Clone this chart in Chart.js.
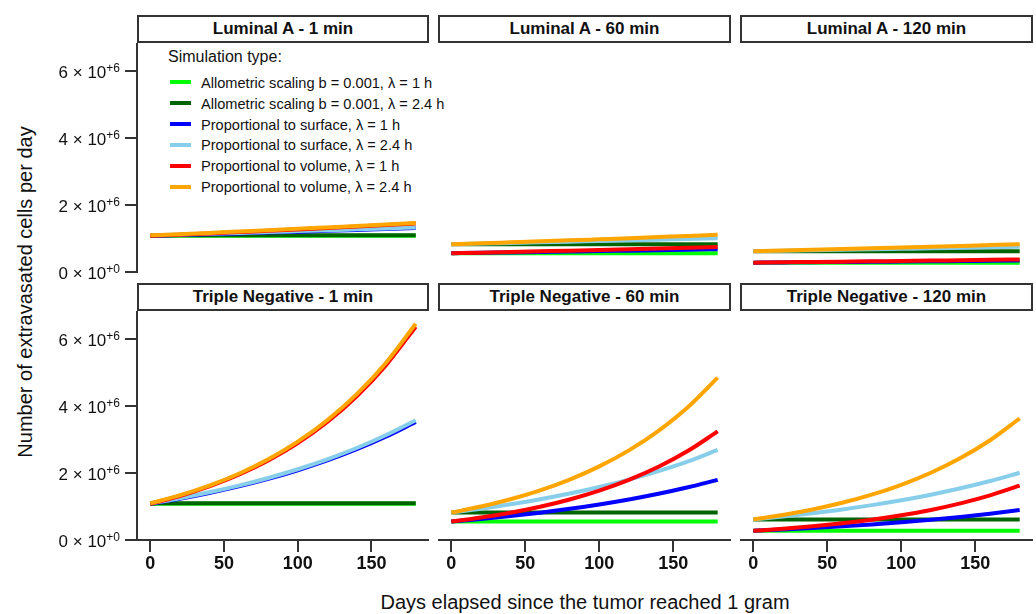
<!DOCTYPE html>
<html>
<head>
<meta charset="utf-8">
<script src="https://cdn.jsdelivr.net/npm/chart.js@4.4.1/dist/chart.umd.min.js"></script>
<style>
    html, body { margin: 0; padding: 0; background: #ffffff; }
    body { position: relative; width: 1036px; height: 614px; overflow: hidden; font-family: "Liberation Sans", Arial, Helvetica, sans-serif; color: #111111; }
    canvas { position: absolute; }
    .strip { position: absolute; box-sizing: border-box; height: 28px; border: 2px solid #333333; background: #ffffff; font-weight: bold; font-size: 17px; line-height: 24px; text-align: center; white-space: nowrap; }
    .legend_title { position: absolute; left: 168px; top: 48px; font-size: 16px; line-height: 18px; white-space: nowrap; }
    .legend_item { position: absolute; left: 201px; font-size: 14.6px; line-height: 18px; white-space: nowrap; }
    .legend_swatch { position: absolute; left: 170px; width: 21px; height: 4px; }
    .x_title { position: absolute; left: 137px; width: 896px; top: 591px; font-size: 20px; line-height: 22px; text-align: center; white-space: nowrap; }
    .y_title { position: absolute; left: -175px; top: 280px; width: 400px; height: 24px; font-size: 20px; line-height: 24px; text-align: center; white-space: nowrap; transform: rotate(-90deg); }
</style>
</head>
<body>
<div class="x_title">Days elapsed since the tumor reached 1 gram</div>
<div class="y_title">Number of extravasated cells per day</div>
<script>
"use strict";
// Data - Days Since The Tumor Reached 1 Gram
const days = [0, 20, 40, 60, 80, 100, 120, 140, 160, 180];
// Data - Simulation Types (same row order in every panel)
const series_names = [
    "Allometric scaling b = 0.001, \u03bb = 1 h",
    "Allometric scaling b = 0.001, \u03bb = 2.4 h",
    "Proportional to surface, \u03bb = 1 h",
    "Proportional to surface, \u03bb = 2.4 h",
    "Proportional to volume, \u03bb = 1 h",
    "Proportional to volume, \u03bb = 2.4 h",
];
const series_colors = ["#00ff00", "#006400", "#0000ff", "#87ceeb", "#ff0000", "#ffa500"];
// Data - Panel Titles
const panel_titles = [
    "Luminal A - 1 min", "Luminal A - 60 min", "Luminal A - 120 min",
    "Triple Negative - 1 min", "Triple Negative - 60 min", "Triple Negative - 120 min",
];
// Data - Extravasated Cells Per Day, In Millions
const luminal_a_1_min = [
    [1.08, 1.08, 1.08, 1.08, 1.08, 1.08, 1.08, 1.08, 1.08, 1.08],
    [1.095, 1.095, 1.095, 1.095, 1.095, 1.095, 1.095, 1.095, 1.095, 1.095],
    [1.080, 1.104, 1.128, 1.152, 1.178, 1.204, 1.230, 1.257, 1.285, 1.313],
    [1.095, 1.119, 1.143, 1.168, 1.195, 1.221, 1.247, 1.275, 1.303, 1.332],
    [1.080, 1.116, 1.152, 1.191, 1.230, 1.271, 1.313, 1.356, 1.401, 1.447],
    [1.095, 1.131, 1.168, 1.208, 1.247, 1.289, 1.332, 1.375, 1.420, 1.467],
];
const luminal_a_60_min = [
    [0.56, 0.56, 0.56, 0.56, 0.56, 0.56, 0.56, 0.56, 0.56, 0.56],
    [0.83, 0.83, 0.83, 0.83, 0.83, 0.83, 0.83, 0.83, 0.83, 0.83],
    [0.560, 0.572, 0.585, 0.598, 0.611, 0.624, 0.638, 0.652, 0.666, 0.681],
    [0.830, 0.848, 0.867, 0.886, 0.906, 0.925, 0.945, 0.966, 0.988, 1.009],
    [0.560, 0.578, 0.598, 0.618, 0.638, 0.659, 0.681, 0.703, 0.726, 0.750],
    [0.830, 0.857, 0.886, 0.915, 0.945, 0.977, 1.009, 1.042, 1.077, 1.112],
];
const luminal_a_120_min = [
    [0.28, 0.28, 0.28, 0.28, 0.28, 0.28, 0.28, 0.28, 0.28, 0.28],
    [0.62, 0.62, 0.62, 0.62, 0.62, 0.62, 0.62, 0.62, 0.62, 0.62],
    [0.280, 0.286, 0.292, 0.299, 0.305, 0.312, 0.319, 0.326, 0.333, 0.340],
    [0.620, 0.634, 0.647, 0.662, 0.676, 0.691, 0.706, 0.722, 0.738, 0.754],
    [0.280, 0.289, 0.299, 0.309, 0.319, 0.330, 0.340, 0.352, 0.363, 0.375],
    [0.620, 0.640, 0.662, 0.684, 0.706, 0.730, 0.754, 0.779, 0.804, 0.831],
];
const triple_negative_1_min = [
    [1.08, 1.08, 1.08, 1.08, 1.08, 1.08, 1.08, 1.08, 1.08, 1.08],
    [1.095, 1.095, 1.095, 1.095, 1.095, 1.095, 1.095, 1.095, 1.095, 1.095],
    [1.080, 1.231, 1.405, 1.602, 1.827, 2.084, 2.377, 2.711, 3.092, 3.526],
    [1.095, 1.248, 1.425, 1.624, 1.853, 2.113, 2.410, 2.748, 3.135, 3.575],
    [1.080, 1.315, 1.602, 1.952, 2.377, 2.895, 3.526, 4.295, 5.232, 6.372],
    [1.095, 1.334, 1.624, 1.979, 2.410, 2.936, 3.575, 4.355, 5.304, 6.461],
];
const triple_negative_60_min = [
    [0.55, 0.55, 0.55, 0.55, 0.55, 0.55, 0.55, 0.55, 0.55, 0.55],
    [0.82, 0.82, 0.82, 0.82, 0.82, 0.82, 0.82, 0.82, 0.82, 0.82],
    [0.550, 0.627, 0.716, 0.816, 0.931, 1.062, 1.211, 1.381, 1.575, 1.796],
    [0.820, 0.935, 1.067, 1.216, 1.387, 1.583, 1.805, 2.058, 2.348, 2.690],
    [0.550, 0.670, 0.816, 0.994, 1.211, 1.475, 1.796, 2.187, 2.664, 3.245],
    [0.820, 0.999, 1.216, 1.482, 1.805, 2.198, 2.677, 3.261, 3.972, 4.850],
];
const triple_negative_120_min = [
    [0.275, 0.275, 0.275, 0.275, 0.275, 0.275, 0.275, 0.275, 0.275, 0.275],
    [0.615, 0.615, 0.615, 0.615, 0.615, 0.615, 0.615, 0.615, 0.615, 0.615],
    [0.275, 0.314, 0.358, 0.408, 0.465, 0.531, 0.605, 0.690, 0.787, 0.898],
    [0.615, 0.701, 0.800, 0.912, 1.041, 1.187, 1.354, 1.544, 1.761, 2.008],
    [0.275, 0.335, 0.408, 0.497, 0.605, 0.737, 0.898, 1.094, 1.332, 1.623],
    [0.615, 0.749, 0.912, 1.111, 1.354, 1.649, 2.008, 2.446, 2.979, 3.629],
];
const panel_values = [luminal_a_1_min, luminal_a_60_min, luminal_a_120_min, triple_negative_1_min, triple_negative_60_min, triple_negative_120_min];
// Data - Axis Ticks
const x_ticks = [0, 50, 100, 150];
const y_ticks = [0, 2, 4, 6];
const y_tick_mantissas = ["0", "2", "4", "6"];
const y_tick_exponents = ["+0", "+6", "+6", "+6"];

document.addEventListener("DOMContentLoaded", function () {
    const font_family = '"Liberation Sans", Arial, Helvetica, sans-serif';
    const text_color = "#111111";
    const axis_color = "#333333";
    // Panel Layout
    const col_left = [137, 438, 740];
    const col_width = [292, 293, 293];
    const row_top = [43, 311];
    const panel_height = 229;
    const y_axis_space = 97;
    const x_axis_space = 45;

    // Legend
    const legend_title = document.createElement("div");
    legend_title.className = "legend_title";
    legend_title.textContent = "Simulation type:";
    document.body.appendChild(legend_title);
    series_names.forEach(function (name, index) {
        const center = 82.5 + index * 20.9;
        const swatch = document.createElement("div");
        swatch.className = "legend_swatch";
        swatch.style.top = (center - 2.5) + "px";
        swatch.style.background = series_colors[index];
        document.body.appendChild(swatch);
        const item = document.createElement("div");
        item.className = "legend_item";
        item.style.top = (center - 8.8) + "px";
        item.textContent = name;
        document.body.appendChild(item);
    });

    // Y Tick Labels With Superscript Exponent
    const y_tick_label_plugin = {
        id: "yTickLabels",
        afterDraw: function (chart) {
            const ctx = chart.ctx;
            const y_scale = chart.scales.y;
            const right = chart.chartArea.left - 17;
            ctx.save();
            ctx.fillStyle = text_color;
            ctx.textAlign = "right";
            ctx.textBaseline = "alphabetic";
            y_ticks.forEach(function (value, index) {
                const y = y_scale.getPixelForValue(value);
                ctx.font = "12px " + font_family;
                const sup_width = ctx.measureText(y_tick_exponents[index]).width;
                ctx.fillText(y_tick_exponents[index], right, y + 1);
                ctx.font = "17px " + font_family;
                ctx.fillText(y_tick_mantissas[index] + " \u00d7 10", right - sup_width, y + 7);
            });
            ctx.restore();
        }
    };

    // Charts
    panel_titles.forEach(function (title, index) {
        const row = Math.floor(index / 3);
        const col = index % 3;
        const show_y = col === 0;
        const show_x = row === 1;
        const extra_left = show_y ? y_axis_space : 0;
        const extra_bottom = show_x ? x_axis_space : (show_y ? 12 : 0);

        // Strip
        const strip = document.createElement("div");
        strip.className = "strip";
        strip.style.left = col_left[col] + "px";
        strip.style.top = (row_top[row] - 28) + "px";
        strip.style.width = col_width[col] + "px";
        strip.textContent = title;
        document.body.appendChild(strip);

        const canvas = document.createElement("canvas");
        canvas.width = col_width[col] + extra_left;
        canvas.height = panel_height + extra_bottom;
        canvas.style.left = (col_left[col] - extra_left) + "px";
        canvas.style.top = row_top[row] + "px";
        document.body.appendChild(canvas);

        const datasets = panel_values[index].map(function (values, series_index) {
            return {
                label: series_names[series_index],
                data: days.map(function (day, i) { return { x: day, y: values[i] }; }),
                borderColor: series_colors[series_index],
                backgroundColor: series_colors[series_index],
                borderWidth: 4,
                pointRadius: 0,
                cubicInterpolationMode: "monotone",
                order: series_names.length - 1 - series_index,
            };
        });

        new Chart(canvas, {
            type: "line",
            data: { datasets: datasets },
            options: {
                responsive: false,
                animation: false,
                devicePixelRatio: 1,
                layout: { padding: { left: 0, right: 0, top: 0, bottom: (!show_x && show_y) ? 12 : 0 } },
                scales: {
                    x: {
                        type: "linear",
                        min: -9,
                        max: 189,
                        display: show_x,
                        afterBuildTicks: function (scale) {
                            scale.ticks = x_ticks.map(function (v) { return { value: v }; });
                        },
                        afterFit: function (scale) { if (show_x) { scale.height = x_axis_space; } },
                        grid: { drawOnChartArea: false, drawTicks: true, tickLength: 12, color: axis_color, lineWidth: 2 },
                        border: { display: true, color: axis_color, width: 2 },
                        ticks: {
                            color: text_color,
                            padding: 1,
                            maxRotation: 0,
                            autoSkip: false,
                            font: { family: font_family, size: 18, weight: "bold" },
                        },
                    },
                    y: {
                        type: "linear",
                        min: 0,
                        max: 6.84,
                        display: show_y,
                        afterBuildTicks: function (scale) {
                            scale.ticks = y_ticks.map(function (v) { return { value: v }; });
                        },
                        afterFit: function (scale) { if (show_y) { scale.width = y_axis_space; } },
                        grid: { drawOnChartArea: false, drawTicks: true, tickLength: 12, color: axis_color, lineWidth: 2 },
                        border: { display: true, color: axis_color, width: 2 },
                        ticks: { display: false },
                    },
                },
                plugins: {
                    legend: { display: false },
                    tooltip: { enabled: false },
                },
            },
            plugins: show_y ? [y_tick_label_plugin] : [],
        });
    });
});
</script>
</body>
</html>
